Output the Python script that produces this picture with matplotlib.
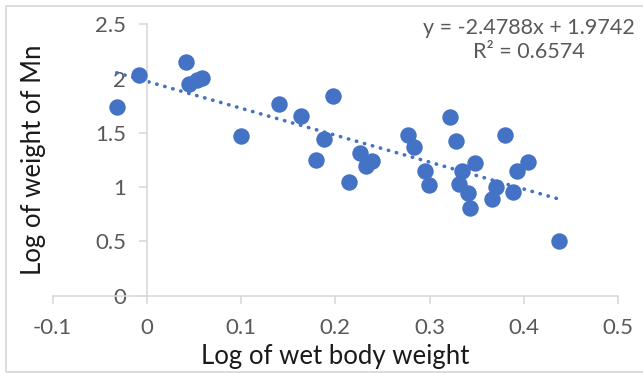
import numpy as np
import matplotlib
matplotlib.use('Agg')
import matplotlib.pyplot as plt
from matplotlib.patches import Rectangle

# Data
log_body_weight = [-0.032, -0.008, 0.041, 0.045, 0.053, 0.058, 0.100, 0.140, 0.164, 0.179,
                   0.188, 0.198, 0.215, 0.226, 0.233, 0.239, 0.277, 0.283, 0.295, 0.299,
                   0.322, 0.328, 0.331, 0.335, 0.341, 0.343, 0.348, 0.366, 0.371, 0.380,
                   0.389, 0.393, 0.405, 0.437]
log_mn_weight = [1.74, 2.03, 2.155, 1.947, 1.986, 2.007, 1.473, 1.762, 1.655, 1.25,
                 1.44, 1.842, 1.05, 1.311, 1.197, 1.243, 1.48, 1.372, 1.148, 1.019,
                 1.643, 1.427, 1.026, 1.148, 0.948, 0.805, 1.219, 0.888, 0.998, 1.483,
                 0.952, 1.151, 1.228, 0.506]

# Trendline from the chart label
slope = -2.4788
intercept = 1.9742
r_squared = 0.6574

x_ticks = [-0.1, 0, 0.1, 0.2, 0.3, 0.4, 0.5]
y_ticks = [0, 0.5, 1, 1.5, 2, 2.5]

blue = '#4472C4'
grey = '#595959'
axis_grey = '#D9D9D9'

plt.rcParams['font.family'] = ['Lato', 'DejaVu Sans']

fig = plt.figure(figsize=(6.43, 3.73), dpi=100)
ax = fig.add_axes([0.082, 0.2072, 0.879, 0.7277])

ax.scatter(log_body_weight, log_mn_weight, s=140, color=blue, zorder=3, linewidths=0)

# Linear trendline over the data range
xs = np.array([min(log_body_weight), max(log_body_weight)])
ax.plot(xs, slope * xs + intercept, color=blue, linewidth=2.6,
        linestyle=(0, (0.1, 2.2)), dash_capstyle='round', zorder=2)

ax.set_xlim(-0.1, 0.5)
ax.set_ylim(0, 2.5)
ax.set_xticks(x_ticks)
ax.set_xticklabels(['-0.1', '0', '0.1', '0.2', '0.3', '0.4', '0.5'])
ax.set_yticks(y_ticks)
ax.set_yticklabels(['0', '0.5', '1', '1.5', '2', '2.5'])

# Excel-style axes crossing at zero
ax.spines['left'].set_position(('data', 0))
ax.spines['bottom'].set_position(('data', 0))
ax.spines['top'].set_visible(False)
ax.spines['right'].set_visible(False)
for s in ['left', 'bottom']:
    ax.spines[s].set_color(axis_grey)
    ax.spines[s].set_linewidth(1.2)
ax.tick_params(axis='both', colors=axis_grey, labelcolor=grey, labelsize=16,
               length=6, width=1.2, direction='out')
ax.tick_params(axis='y', pad=9)
ax.tick_params(axis='x', pad=10)

fig.text(0.521, 0.045, 'Log of wet body weight', ha='center', va='center', fontsize=18.5, color='#1a1a1a')
fig.text(0.052, 0.571, 'Log of weight of Mn', ha='center', va='center', rotation=90,
         fontsize=18.5, color='#1a1a1a')

fig.text(0.822, 0.893, f'y = {slope}x + {intercept}\nR² = {r_squared}', ha='center', va='center',
         fontsize=15.5, color=grey, linespacing=1.3, multialignment='center')

# chart area border
fig.patches.append(Rectangle((6 / 643, 1.5 / 373), 1.2, 1 - 7.5 / 373, transform=fig.transFigure,
                             fill=False, edgecolor=axis_grey, linewidth=1.3))

fig.savefig('out.png', dpi=100)
